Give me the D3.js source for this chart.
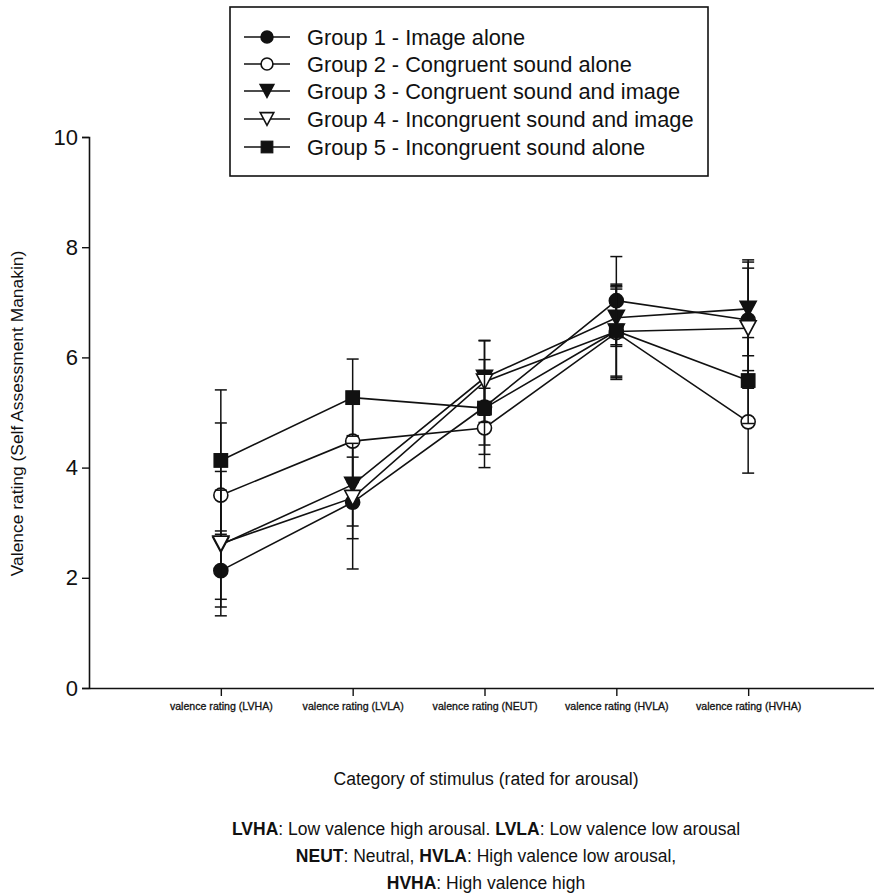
<!DOCTYPE html>
<html>
<head>
<meta charset="utf-8">
<script src="https://cdn.jsdelivr.net/npm/d3@7/dist/d3.min.js"></script>
<style>
  html, body { margin: 0; padding: 0; background: #fff; }
  svg { display: block; font-family: "Liberation Sans", Arial, Helvetica, sans-serif; }
</style>
</head>
<body>
<svg id="chart" width="874" height="895"></svg>
<script>
// Stimulus categories on the x axis
const categories = [
  "valence rating (LVHA)",
  "valence rating (LVLA)",
  "valence rating (NEUT)",
  "valence rating (HVLA)",
  "valence rating (HVHA)"
];

// Group labels for the legend
const groupNames = [
  "Group 1 - Image alone",
  "Group 2 - Congruent sound alone",
  "Group 3 - Congruent sound and image",
  "Group 4 - Incongruent sound and image",
  "Group 5 - Incongruent sound alone"
];

// Mean valence ratings and standard deviations per group
const g1Mean = [2.13, 3.37, 5.10, 7.03, 6.68];
const g1Sd   = [0.66, 1.21, 0.86, 0.80, 1.09];
const g2Mean = [3.50, 4.48, 4.72, 6.45, 4.83];
const g2Sd   = [1.31, 0.75, 0.72, 0.85, 0.93];
const g3Mean = [2.60, 3.69, 5.63, 6.72, 6.88];
const g3Sd   = [0.99, 0.75, 0.68, 0.52, 0.85];
const g4Mean = [2.62, 3.45, 5.56, 6.47, 6.53];
const g4Sd   = [1.31, 0.74, 0.74, 0.81, 1.09];
const g5Mean = [4.13, 5.27, 5.08, 6.48, 5.58];
const g5Sd   = [1.28, 0.70, 0.67, 0.85, 0.78];

// Y axis ticks
const yTicks = [0, 2, 4, 6, 8, 10];

// Symbol for each group: shape and fill
const symbolShapes = ["circle", "circle", "triDown", "triDown", "square"];
const symbolFilled = [true, false, true, false, true];

const means = [g1Mean, g2Mean, g3Mean, g4Mean, g5Mean];
const sds = [g1Sd, g2Sd, g3Sd, g4Sd, g5Sd];

const svg = d3.select("#chart");
const INK = "#111";

const x = d3.scaleLinear().domain([0, 6]).range([89, 880]);
const y = d3.scaleLinear().domain([0, 10]).range([688, 137]);

// ---- axes ----
const yAxis = d3.axisLeft(y).tickValues(yTicks).tickSize(7).tickPadding(4).tickFormat(d3.format("d"));
const gy = svg.append("g").attr("transform", `translate(${x(0)},0)`).call(yAxis);
gy.select(".domain").attr("stroke", INK).attr("stroke-width", 1.6);
gy.selectAll(".tick line").attr("stroke", INK).attr("stroke-width", 1.4);
gy.selectAll(".tick text").attr("font-size", 22).attr("fill", INK)
  .attr("font-family", "Liberation Sans, Arial, sans-serif");

const xAxis = d3.axisBottom(x).tickValues([1, 2, 3, 4, 5]).tickSize(8).tickPadding(6)
  .tickSizeOuter(0)
  .tickFormat(d => categories[d - 1]);
const gx = svg.append("g").attr("transform", `translate(0,${y(0)})`).call(xAxis);
gx.select(".domain").attr("stroke", INK).attr("stroke-width", 1.6);
gx.selectAll(".tick line").attr("stroke", INK).attr("stroke-width", 1.4);
gx.selectAll(".tick text").attr("font-size", 10.6).attr("fill", INK)
  .attr("stroke", INK).attr("stroke-width", 0.3)
  .attr("font-family", "Liberation Sans, Arial, sans-serif");

// ---- axis titles ----
svg.append("text")
  .attr("transform", `translate(23,${(y(0) + y(10)) / 2 + 1}) rotate(-90)`)
  .attr("text-anchor", "middle")
  .attr("font-size", 17.4)
  .attr("fill", INK)
  .text("Valence rating (Self Assessment Manakin)");

svg.append("text")
  .attr("x", 486).attr("y", 785)
  .attr("text-anchor", "middle")
  .attr("font-size", 17.6)
  .attr("fill", INK)
  .text("Category of stimulus (rated for arousal)");

// ---- footnote with bold abbreviations ----
const notes = [
  [["LVHA", true], [": Low valence high arousal. ", false], ["LVLA", true], [": Low valence low arousal", false]],
  [["NEUT", true], [": Neutral, ", false], ["HVLA", true], [": High valence low arousal,", false]],
  [["HVHA", true], [": High valence high", false]]
];
const noteY = [835, 862, 889];
notes.forEach((parts, i) => {
  const t = svg.append("text")
    .attr("x", 486).attr("y", noteY[i])
    .attr("text-anchor", "middle")
    .attr("font-size", 17.5)
    .attr("fill", INK);
  parts.forEach(([s, b]) => {
    t.append("tspan").attr("font-weight", b ? "bold" : "normal").text(s);
  });
});

// ---- symbol drawing ----
function drawSymbol(sel, shape, filled, cx, cy, scale) {
  const s = scale || 1;
  const fill = filled ? INK : "#fff";
  if (shape === "circle") {
    sel.append("circle").attr("cx", cx).attr("cy", cy).attr("r", 7 * s)
      .attr("fill", fill).attr("stroke", INK).attr("stroke-width", 1.6);
  } else if (shape === "square") {
    const h = 6.8 * s;
    sel.append("rect").attr("x", cx - h).attr("y", cy - h).attr("width", 2 * h).attr("height", 2 * h)
      .attr("fill", fill).attr("stroke", INK).attr("stroke-width", 1.2);
  } else if (shape === "triDown") {
    const w = 8 * s, hh = 7.5 * s;
    const pts = [[cx - w, cy - hh], [cx + w, cy - hh], [cx, cy + hh]];
    sel.append("path").attr("d", "M" + pts.map(p => p.join(",")).join("L") + "Z")
      .attr("fill", fill).attr("stroke", INK).attr("stroke-width", 1.6)
      .attr("stroke-linejoin", "miter");
  }
}

// ---- series: line, error bars, then symbols ----
const line = d3.line().x((d, i) => x(i + 1)).y(d => y(d));
const capHalf = 6;

means.forEach((m, gi) => {
  const g = svg.append("g");
  g.append("path").attr("d", line(m))
    .attr("fill", "none").attr("stroke", INK).attr("stroke-width", 1.6);

  m.forEach((v, i) => {
    const sd = sds[gi][i];
    const cx = x(i + 1);
    const y1 = y(v + sd), y2 = y(v - sd);
    g.append("line").attr("x1", cx).attr("x2", cx).attr("y1", y1).attr("y2", y2)
      .attr("stroke", INK).attr("stroke-width", 1.5);
    [y1, y2].forEach(yy => {
      g.append("line").attr("x1", cx - capHalf).attr("x2", cx + capHalf)
        .attr("y1", yy).attr("y2", yy)
        .attr("stroke", INK).attr("stroke-width", 1.5);
    });
  });

  m.forEach((v, i) => drawSymbol(g, symbolShapes[gi], symbolFilled[gi], x(i + 1), y(v)));
});

// ---- legend ----
const legend = svg.append("g");
legend.append("rect").attr("x", 230).attr("y", 7).attr("width", 478).attr("height", 169)
  .attr("fill", "#fff").attr("stroke", INK).attr("stroke-width", 1.6);
const rowY = [37, 64, 91, 119, 147];
groupNames.forEach((name, gi) => {
  const ry = rowY[gi];
  legend.append("line").attr("x1", 244).attr("x2", 290).attr("y1", ry).attr("y2", ry)
    .attr("stroke", INK).attr("stroke-width", 1.6);
  drawSymbol(legend, symbolShapes[gi], symbolFilled[gi], 267, ry, 0.85);
  legend.append("text").attr("x", 307).attr("y", ry + 7.8)
    .attr("font-size", 21.8).attr("fill", INK).text(name);
});
</script>
</body>
</html>
